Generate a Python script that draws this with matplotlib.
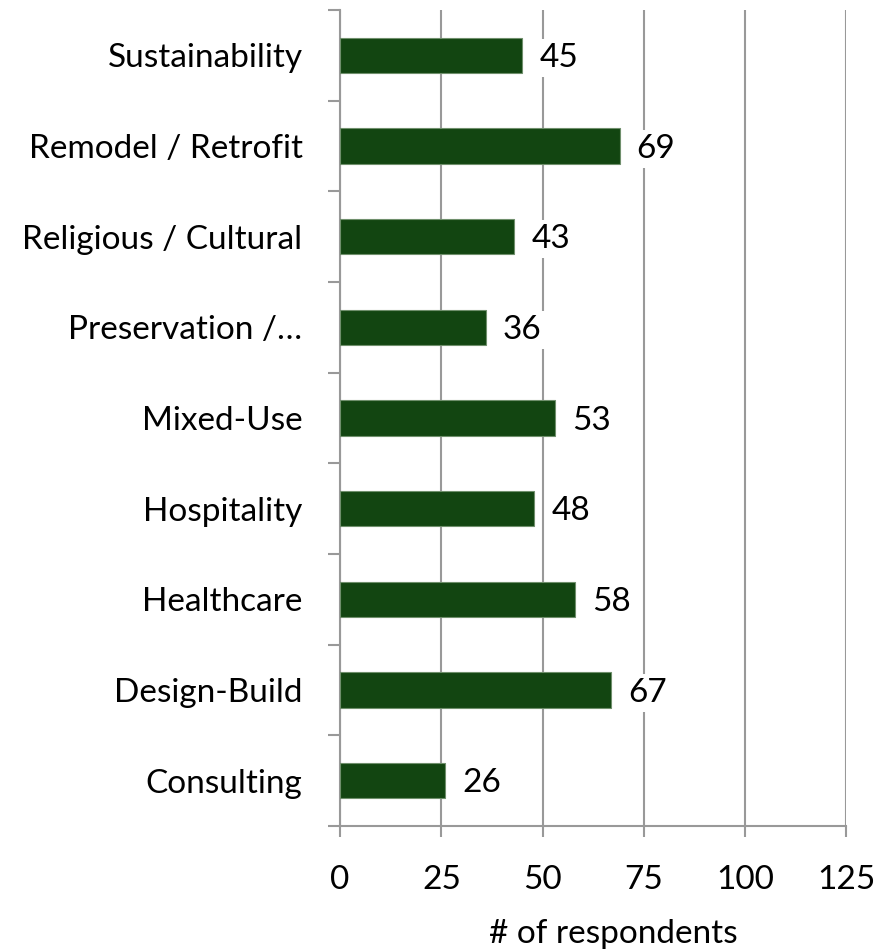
import matplotlib.pyplot as plt

categories = ["Consulting", "Design-Build", "Healthcare", "Hospitality", "Mixed-Use",
              "Preservation /…", "Religious / Cultural", "Remodel / Retrofit", "Sustainability"]
respondents = [26, 67, 58, 48, 53, 36, 43, 69, 45]
xticks = [0, 25, 50, 75, 100, 125]

plt.rcParams['font.family'] = ['Lato', 'DejaVu Sans']
fs = 24

fig = plt.figure(figsize=(8.88, 9.49), dpi=100)
ax = fig.add_axes([0.383, 0.1296, 0.570, 0.860])

grey = '#999999'
pos = list(range(len(categories)))
ax.barh(pos, respondents, height=0.39, color='#124511', edgecolor='#6f8f6c', linewidth=0.8, zorder=3)

# value labels sit on white boxes that cut through the gridlines
for y, v in zip(pos, respondents):
    ax.text(v + 4.2, y - 0.03, str(v), va='center', ha='left', fontsize=fs,
            bbox=dict(facecolor='white', edgecolor='none', pad=3), zorder=4)

ax.set_xlim(0, 125)
ax.set_ylim(-0.5, len(categories) - 0.5)
ax.set_xticks(xticks)
ax.set_xticklabels([str(t) for t in xticks], fontsize=fs)
ax.xaxis.grid(True, color=grey, linewidth=1.5, zorder=0)

ax.set_yticks(pos)
ax.set_yticklabels(categories, fontsize=fs)
ax.tick_params(axis='y', length=0, pad=27)
ax.set_yticks([p - 0.5 for p in range(len(categories) + 1)], minor=True)
ax.tick_params(axis='y', which='minor', length=9, width=1.5, color=grey)
ax.tick_params(axis='x', length=8, width=1.5, color=grey, pad=20)

for s in ['top', 'right']:
    ax.spines[s].set_visible(False)
for s in ['left', 'bottom']:
    ax.spines[s].set_color(grey)
    ax.spines[s].set_linewidth(1.5)

ax.set_xlabel('# of respondents', fontsize=fs, labelpad=17, x=0.54)

fig.savefig('out.png', dpi=100)
